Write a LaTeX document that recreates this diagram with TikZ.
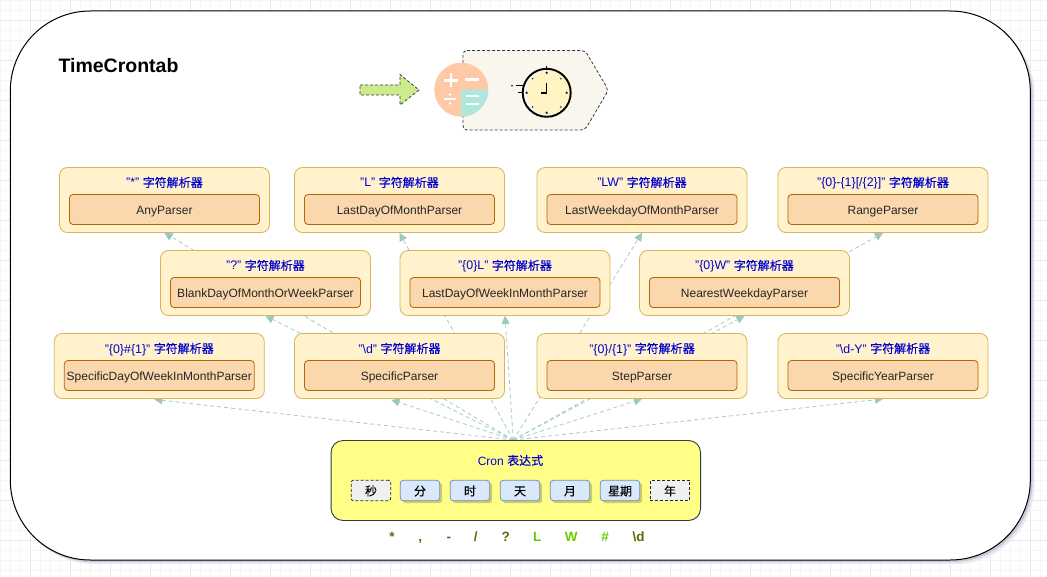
\documentclass[tikz,border=0pt]{standalone}
\usepackage{fontspec}
\setmainfont{Liberation Sans}
\newfontfamily\cjk[FakeBold=0.25]{Noto Sans CJK SC}
\usetikzlibrary{arrows.meta,calc,shapes.geometric}
\definecolor{gridminor}{HTML}{F6F6F6}
\definecolor{gridmajor}{HTML}{E8E8E8}
\definecolor{linkc}{HTML}{A3CDC6}
\definecolor{tipc}{HTML}{9AC7BF}
\definecolor{grpfill}{HTML}{FFF2CC}
\definecolor{grpline}{HTML}{D6B656}
\definecolor{innfill}{HTML}{FAD7AC}
\definecolor{innline}{HTML}{B46504}
\definecolor{titleblue}{HTML}{0000CC}
\definecolor{cronfill}{HTML}{FFFF88}
\definecolor{cronline}{HTML}{36393D}
\definecolor{cellfill}{HTML}{DAE8FC}
\definecolor{cellline}{HTML}{6C8EBF}
\definecolor{olive}{HTML}{666600}
\definecolor{lime}{HTML}{66CC00}
\definecolor{peach}{HTML}{FFC9A8}
\definecolor{mint}{HTML}{AEE8DC}
\definecolor{clockfill}{HTML}{FFF4C3}
\definecolor{arrowfill}{HTML}{CDEB8B}
\definecolor{tagfill}{HTML}{F9F7ED}
\definecolor{shadownear}{HTML}{C8C8D6}
\definecolor{shadowfar}{HTML}{E8E8F0}
\pgfdeclarelayer{bg}
\pgfdeclarelayer{conn}
\pgfsetlayers{bg,conn,main}
\tikzset{
  x=1pt,y=-1pt,
  grp/.style={draw=grpline,fill=grpfill,rounded corners=8pt,line width=.8pt,minimum width=210pt,minimum height=65pt,inner sep=0pt},
  inn/.style={draw=innline,fill=innfill,rounded corners=3.5pt,line width=.8pt,minimum width=190pt,minimum height=30pt,inner sep=0pt,font=\fontsize{12}{14}\selectfont,text=black!85,text height=9.6pt,text depth=0pt},
  ttl/.style={font=\fontsize{12.4}{14}\selectfont,text=titleblue,inner sep=0pt,anchor=base},
  link/.style={draw=linkc,dash pattern=on 4pt off 3pt,line width=.8pt,-{Triangle[length=8pt,width=8pt,fill=tipc,color=tipc,sep=0pt]}},
  cell/.style={draw=cellline,fill=cellfill,rounded corners=3pt,line width=.8pt,minimum width=39.4pt,minimum height=20.4pt,inner sep=0pt,font=\cjk\fontsize{12}{14}\selectfont,text height=10pt,text depth=0pt},
  cellsh/.style={fill=black,opacity=.2,rounded corners=3pt,minimum width=39.4pt,minimum height=20.4pt,inner sep=0pt},
  off/.style={draw=black!85,dash pattern=on 3pt off 2pt,fill=black!6,rounded corners=2pt,line width=.8pt,minimum width=39.4pt,minimum height=20.4pt,inner sep=0pt,font=\cjk\fontsize{12}{14}\selectfont,text height=10pt,text depth=0pt},
  sym/.style={font=\bfseries\fontsize{13.5}{15}\selectfont,inner sep=0pt,anchor=base},
  dashedge/.style={draw=cronline,dash pattern=on 3pt off 2pt,line width=.8pt},
  icon/.style={draw=white,line width=2.4pt},
}
\newcommand{\Cn}[1]{{\fontsize{12}{14}\selectfont\cjk #1}}
\newcommand{\parserbox}[5]{%
  \node[grp] (#1) at (#2,#3) {};
  \node[inn] (#1i) at (#2,#3+9.5) {#5};
  \node[ttl] at (#2,#3-13) {#4 \Cn{字符解析器}};
}
\begin{document}
\begin{tikzpicture}
\useasboundingbox (0,0) rectangle (1047,577);
\begin{pgfonlayer}{bg}
\fill[white] (0,0) rectangle (1047,577);
\foreach \i in {0,...,104} {\draw[gridminor,line width=.6pt] (\i*10,0) -- (\i*10,577);}
\foreach \i in {0,...,57} {\draw[gridminor,line width=.6pt] (0,\i*10) -- (1047,\i*10);}
\foreach \i in {0,...,25} {\draw[gridmajor,line width=.6pt] (\i*40+30,0) -- (\i*40+30,577);}
\foreach \i in {0,...,14} {\draw[gridmajor,line width=.6pt] (0,\i*40+20) -- (1047,\i*40+20);}
\fill[fill=shadowfar,rounded corners=80pt] (14,15) rectangle (1034.5,564);
\fill[fill=shadownear,rounded corners=80pt] (12,13) rectangle (1032.5,562);
\node[draw=black,fill=white,rounded corners=80pt,line width=1pt,minimum width=1020pt,minimum height=549pt,inner sep=0pt] (frame) at (520.3,285.5) {};
\end{pgfonlayer}
\node[font=\bfseries\fontsize{19.5}{22}\selectfont,inner sep=0pt] (title) at (118.5,66) {TimeCrontab};
% tag shape with clock
\draw[dashedge,fill=tagfill,rounded corners=4pt] (463,50.5) -- (585,50.5) -- (608.5,90) -- (585,130) -- (463,130) -- cycle;
% calculator icon
\fill[peach] (461.3,89.7) circle[radius=27];
\fill[mint] (461.3,89.7) -- (488.3,89.7) arc[start angle=0,end angle=90,radius=27] -- cycle;
\draw[icon] (444,80.5) -- (458,80.5) (451,73.5) -- (451,87.5);
\draw[icon] (465,79.5) -- (478.5,79.5);
\draw[icon] (444,99) -- (456,99);
\fill[white] (450,94.5) circle[radius=1.4] (450,103.5) circle[radius=1.4];
\draw[icon] (465.5,96.3) -- (478.5,96.3) (465.5,104) -- (478.5,104);
% clock icon
\fill[clockfill] (549.5,92.8) circle[radius=22.8];
\draw[black,line width=1.9pt] (546.7,92.8) circle[radius=24];
\foreach \a in {0,90,180,270} {\fill[black!85] ($(546.7,92.8)+(\a:20)$) circle[radius=1.3];}
\foreach \a in {45,135,225,315} {\fill[black!70] ($(546.7,92.8)+(\a:20)$) circle[radius=1];}
\draw[black,line width=1.8pt] (546.5,83.3) -- (546.5,92.7) -- (540.7,92.7);
\draw[black,line width=1.3pt] (516,85.7) -- (522.5,85.7) (518.3,92.7) -- (522.5,92.7) (546.7,66) -- (546.7,68.5);
\fill[black] (512,85.7) circle[radius=.9];
% big arrow
\draw[dashedge,fill=arrowfill] (360,85) -- (400,85) -- (400,74.5) -- (419,90) -- (400,105) -- (400,95) -- (360,95) -- cycle;
% cron box
\node[draw=cronline,fill=cronfill,rounded corners=12pt,line width=.9pt,minimum width=369.5pt,minimum height=80pt,inner sep=0pt] (cron) at (515.8,480.5) {};
\coordinate (src) at ($(cron.north)+(-2.5,0)$);
\node[font=\fontsize{12}{14}\selectfont,text=titleblue,inner sep=0pt,anchor=base] (crontitle) at (510.5,465) {Cron \Cn{表达式}};
\node[off] (c0) at (371,490.5) {秒};
\foreach \nm/\xx/\tx in {c1/420/分,c2/470/时,c3/520/天,c4/570/月,c5/620/星期} {
  \node[cellsh] at (\xx+2.5,493) {};
  \node[cell] (\nm) at (\xx,490.5) {\tx};
}
\node[off,rounded corners=0pt] (c6) at (670,490.5) {年};
\node[sym,text=olive] at (392,541) {*};
\node[sym,text=olive] at (420.3,541) {,};
\node[sym,text=olive] at (448.8,541) {-};
\node[sym,text=olive] at (475.8,541) {/};
\node[sym,text=olive] at (505.7,541) {?};
\node[sym,text=lime] at (537.3,541) {L};
\node[sym,text=lime] at (571.3,541) {W};
\node[sym,text=lime] at (605,541) {\#};
\node[sym,text=olive] at (638.7,541) {\textbackslash d};
% parsers
\parserbox{any}{164.5}{200}{"*"}{AnyParser}
\parserbox{ldm}{399.5}{200}{"L"}{LastDayOfMonthParser}
\parserbox{lwd}{642}{200}{"LW"}{LastWeekdayOfMonthParser}
\parserbox{rng}{883}{200}{"\{0\}-\{1\}[/\{2\}]"}{RangeParser}
\parserbox{blk}{265.5}{283}{"?"}{BlankDayOfMonthOrWeekParser}
\parserbox{ldw}{505}{283}{"\{0\}L"}{LastDayOfWeekInMonthParser}
\parserbox{nwd}{744.5}{283}{"\{0\}W"}{NearestWeekdayParser}
\parserbox{sdw}{159.3}{366}{"\{0\}\#\{1\}"}{SpecificDayOfWeekInMonthParser}
\parserbox{spc}{399.5}{366}{"\textbackslash d"}{SpecificParser}
\parserbox{stp}{642}{366}{"\{0\}/\{1\}"}{StepParser}
\parserbox{yer}{883}{366}{"\textbackslash d-Y"}{SpecificYearParser}
\begin{pgfonlayer}{conn}
\draw[link] (src) -- (any.south);
\draw[link] (src) -- (ldm.south);
\draw[link] (src) -- (lwd.south);
\draw[link] (src) -- (rng.south);
\draw[link] (src) -- (blk.south);
\draw[link] (src) -- (ldw.south);
\draw[link] (src) -- (nwd.south);
\draw[link] (src) -- ($(sdw.south)+(-5,0.5)$);
\draw[link] (src) -- ($(spc.south)+(-8,1)$);
\draw[link] (src) -- (stp.south);
\draw[link] (src) -- (yer.south);
\end{pgfonlayer}
\end{tikzpicture}
\end{document}
